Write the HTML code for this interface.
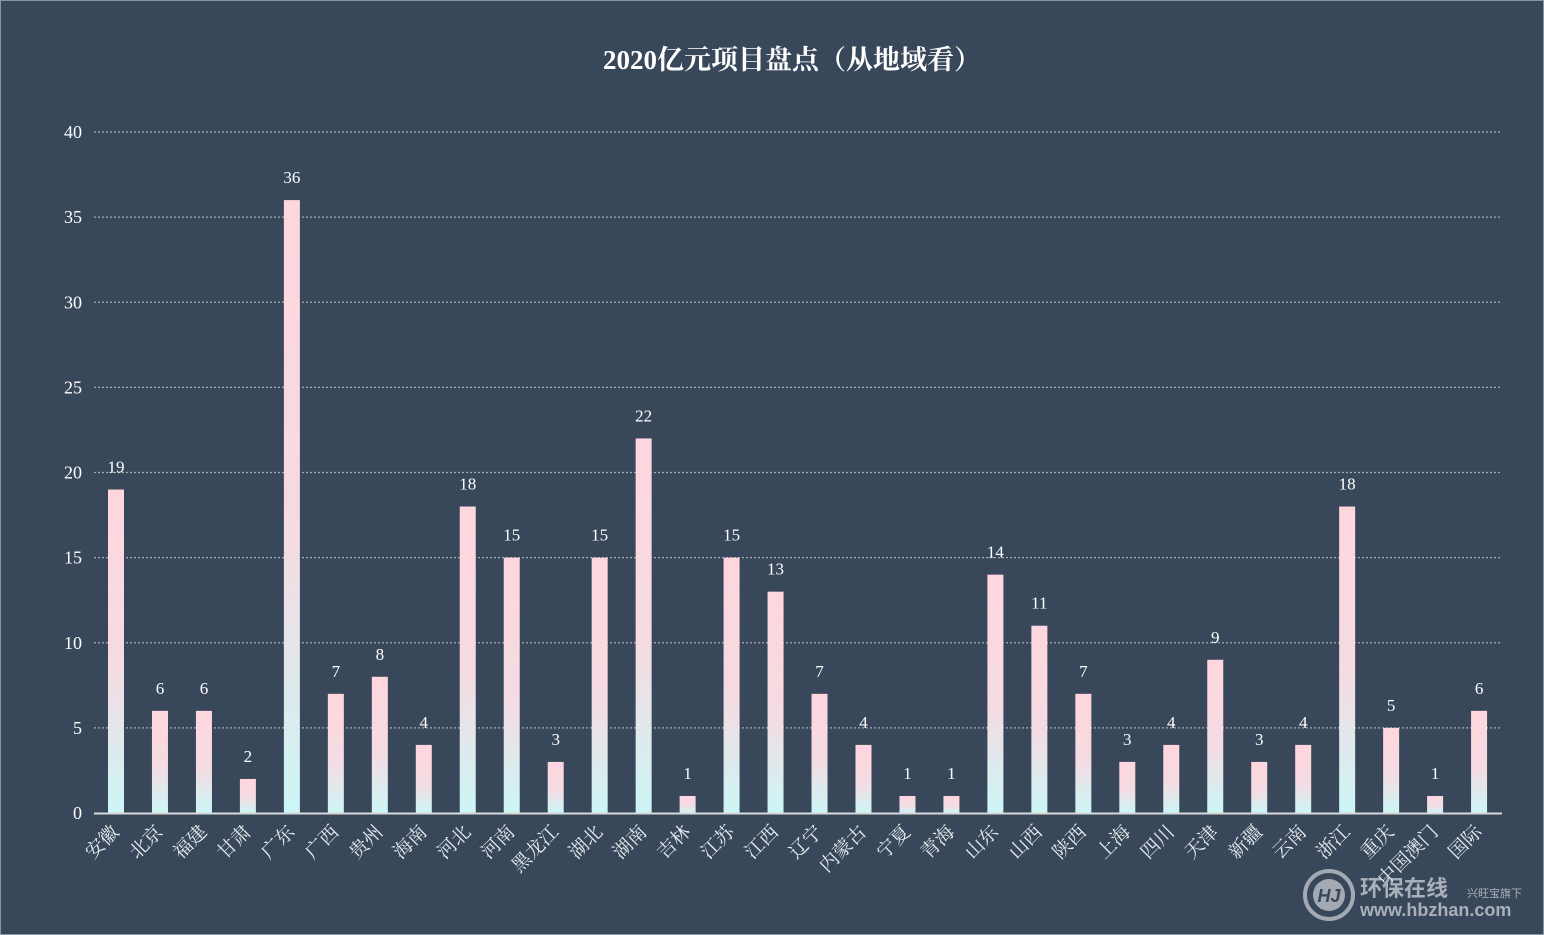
<!DOCTYPE html>
<html><head><meta charset="utf-8"><style>
html,body{margin:0;padding:0;background:#38475a;}
svg{display:block}
</style></head><body>
<svg id="s" width="1544" height="935" xmlns="http://www.w3.org/2000/svg">
<defs>
<linearGradient id="g" x1="0" y1="0" x2="0" y2="1">
<stop offset="0" stop-color="#ffd6de"/>
<stop offset="0.55" stop-color="#f5dbe2"/>
<stop offset="1" stop-color="#ccf6f6"/>
</linearGradient>
</defs>
<rect x="0" y="0" width="1544" height="935" fill="#38475a"/>
<rect x="0.5" y="0.5" width="1543" height="934" fill="none" stroke="#8a96a6" stroke-width="1"/>
<text x="792" y="69" fill="#ffffff" font-size="27" font-weight="bold" text-anchor="middle" font-family="'Liberation Serif','Noto Serif CJK SC',serif">2020亿元项目盘点（从地域看）</text>
<g id="c"></g>
</svg>
<script>
(function(){
var names=["安徽","北京","福建","甘肃","广东","广西","贵州","海南","河北","河南","黑龙江","湖北","湖南","吉林","江苏","江西","辽宁","内蒙古","宁夏","青海","山东","山西","陕西","上海","四川","天津","新疆","云南","浙江","重庆","中国澳门","国际"];
var vals=[19,6,6,2,36,7,8,4,18,15,3,15,22,1,15,13,7,4,1,1,14,11,7,3,4,9,3,4,18,5,1,6];
var h='';
var F="font-family=\"'Liberation Serif','Noto Serif CJK SC',serif\"";
for(var t=0;t<=40;t+=5){var y=813-17.025*t;
 if(t>0)h+='<line x1="94" x2="1502" y1="'+y+'" y2="'+y+'" stroke="#a8acb0" stroke-width="1.3" stroke-dasharray="2,2"/>';
 h+='<text x="82" y="'+(y+6)+'" fill="#ffffff" font-size="18" text-anchor="end" '+F+'>'+t+'</text>';}
for(var i=0;i<32;i++){var cx=116+43.97*i,v=vals[i],ht=17.025*v,by=813-ht;
 h+='<rect x="'+(cx-8)+'" y="'+by+'" width="16" height="'+ht+'" fill="url(#g)"/>';
 h+='<text x="'+cx+'" y="'+(by-17)+'" fill="#ffffff" font-size="17" text-anchor="middle" '+F+'>'+v+'</text>';
 h+='<text transform="translate('+(cx+4)+',833) rotate(-45)" fill="#e8ecf0" font-size="19" text-anchor="end" '+F+'>'+names[i]+'</text>';}
h+='<line x1="94" x2="1502" y1="813.5" y2="813.5" stroke="#d9d9d9" stroke-width="2"/>';
h+='<g opacity="0.75"><circle cx="1329" cy="895" r="24" fill="none" stroke="#c8ccd2" stroke-width="4"/><circle cx="1329" cy="895" r="16" fill="#c8ccd2"/><text x="1329" y="902" fill="#38475a" font-size="18" font-weight="bold" font-style="italic" text-anchor="middle" font-family="Liberation Sans,sans-serif">HJ</text>';
h+='<text x="1360" y="896" fill="#d0d4da" font-size="22" font-weight="bold" font-family="\'Liberation Sans\',\'Noto Sans CJK SC\',sans-serif">环保在线</text>';
h+='<text x="1467" y="897" fill="#d0d4da" font-size="11" font-family="\'Liberation Sans\',\'Noto Sans CJK SC\',sans-serif">兴旺宝旗下</text>';
h+='<text x="1360" y="916" fill="#d0d4da" font-size="18" font-weight="bold" font-family="Liberation Sans,sans-serif">www.hbzhan.com</text></g>';
document.getElementById('c').innerHTML=h;
})();
</script>
</body></html>
